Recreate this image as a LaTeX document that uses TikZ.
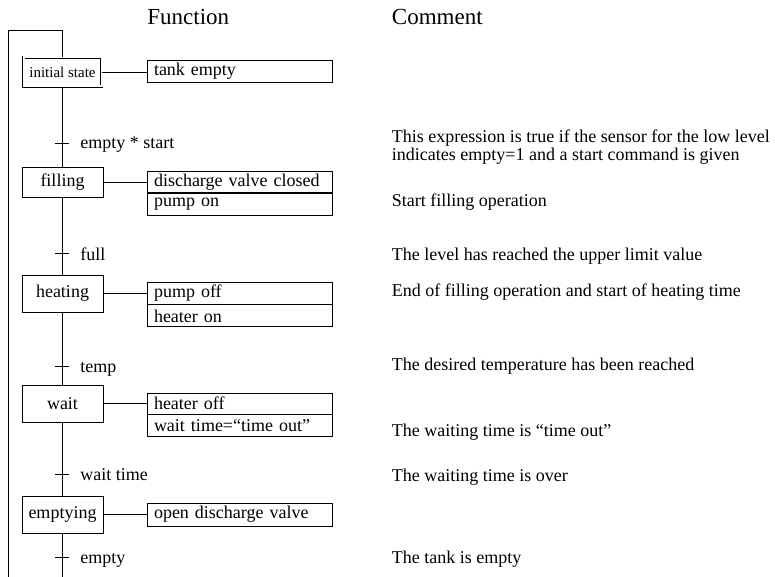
\documentclass[tikz,border=0pt]{standalone}
\usepackage{fontspec}
\setmainfont{Liberation Serif}
\begin{document}
\begin{tikzpicture}[x=1pt,y=-1pt,line width=0.9pt,
  stepbox/.style={draw,minimum width=81pt,inner sep=0pt,font=\fontsize{18}{18}\selectfont},
  actbox/.style={draw,minimum width=185pt,minimum height=22pt,inner sep=0pt,text width=171pt,align=left,font=\fontsize{18}{18}\selectfont},
  trlabel/.style={anchor=base west,inner sep=0pt,font=\fontsize{18}{18}\selectfont},
  comment/.style={anchor=base west,inner sep=0pt,font=\fontsize{18}{18}\selectfont},
  header/.style={anchor=base west,inner sep=0pt,font=\fontsize{23}{23}\selectfont},
  tick/.style={line width=0.9pt}]
\useasboundingbox (0,0) rectangle (775,577);
% headers
\node[header] (hf) at (147,25) {Function};
\node[header] (hc) at (391.5,25) {Comment};
% steps
\node[draw,double,double distance=2pt,line width=0.8pt,minimum width=78pt,minimum height=29pt,inner sep=0pt,font=\fontsize{15}{15}\selectfont] (s0) at (62.5,72) {initial state};
\node[stepbox,minimum height=30pt] (s1) at (62.5,182) {filling};
\node[stepbox,minimum height=37pt] (s2) at (62.5,293.5) {heating};
\node[stepbox,minimum height=37pt] (s3) at (62.5,403.5) {wait};
\node[stepbox,minimum height=37pt] (s4) at (62.5,514.5) {emptying};
% actions
\node[actbox] (a0) at (239.5,71) {tank empty};
\node[actbox,minimum height=21.5pt] (a1) at (239.5,182) {discharge valve closed};
\node[actbox,minimum height=21.5pt,anchor=north] (a1b) at (a1.south) {pump on};
\node[actbox,minimum height=22pt] (a2) at (239.5,293) {pump off};
\node[actbox,minimum height=22pt,anchor=north] (a2b) at (a2.south) {heater on};
\node[actbox,minimum height=21pt] (a3) at (239.5,403.5) {heater off};
\node[actbox,minimum height=22pt,anchor=north] (a3b) at (a3.south) {wait time=``time out''};
\node[actbox,minimum height=23pt] (a4) at (239.5,514.5) {open discharge valve};
% action connectors
\draw (s0.east) -- (s0.east -| a0.west);
\draw (s1.east) -- (s1.east -| a1.west);
\draw (s2.east) -- (s2.east -| a2.west);
\draw (s3.east) -- (s3.east -| a3.west);
\draw (s4.east) -- (s4.east -| a4.west);
% transitions
\coordinate (t1) at (62,143);
\coordinate (t2) at (62,253);
\coordinate (t3) at (62,366);
\coordinate (t4) at (62,474);
\coordinate (t5) at (62,557);
\coordinate (top) at (62,30);
\coordinate (topl) at (8,30);
\coordinate (bot) at (62,577);
\coordinate (botl) at (8,577);
\draw (s0.north -| top) -- (top) -- (topl) -- (botl);
\draw (s0.south -| t1) -- (s1.north -| t1);
\draw (s1.south -| t1) -- (s2.north -| t1);
\draw (s2.south -| t1) -- (s3.north -| t1);
\draw (s3.south -| t1) -- (s4.north -| t1);
\draw (s4.south -| t1) -- (bot);
\draw[gray!40,line width=0.8pt] ([yshift=-0.5pt]botl) -- ([yshift=-0.5pt]bot);
\foreach \t in {t1,t2,t3,t4,t5} \draw[tick] ([xshift=-7pt]\t) -- ([xshift=7pt]\t);
\node[trlabel] (l1) at (80,149) {empty * start};
\node[trlabel] (l2) at (80,260) {full};
\node[trlabel] (l3) at (80,372) {temp};
\node[trlabel] (l4) at (80,480.5) {wait time};
\node[trlabel] (l5) at (80,563) {empty};
% comments
\node[comment] (c1) at (391.5,143) {This expression is true if the sensor for the low level};
\node[comment] (c1b) at (391.5,161) {indicates empty=1 and a start command is given};
\node[comment] (c2) at (391.5,207) {Start filling operation};
\node[comment] (c3) at (391.5,260.5) {The level has reached the upper limit value};
\node[comment] (c4) at (391.5,296.5) {End of filling operation and start of heating time};
\node[comment] (c5) at (391.5,370) {The desired temperature has been reached};
\node[comment] (c6) at (391.5,436.5) {The waiting time is ``time out''};
\node[comment] (c7) at (391.5,481.5) {The waiting time is over};
\node[comment] (c8) at (391.5,563) {The tank is empty};
\end{tikzpicture}
\end{document}
